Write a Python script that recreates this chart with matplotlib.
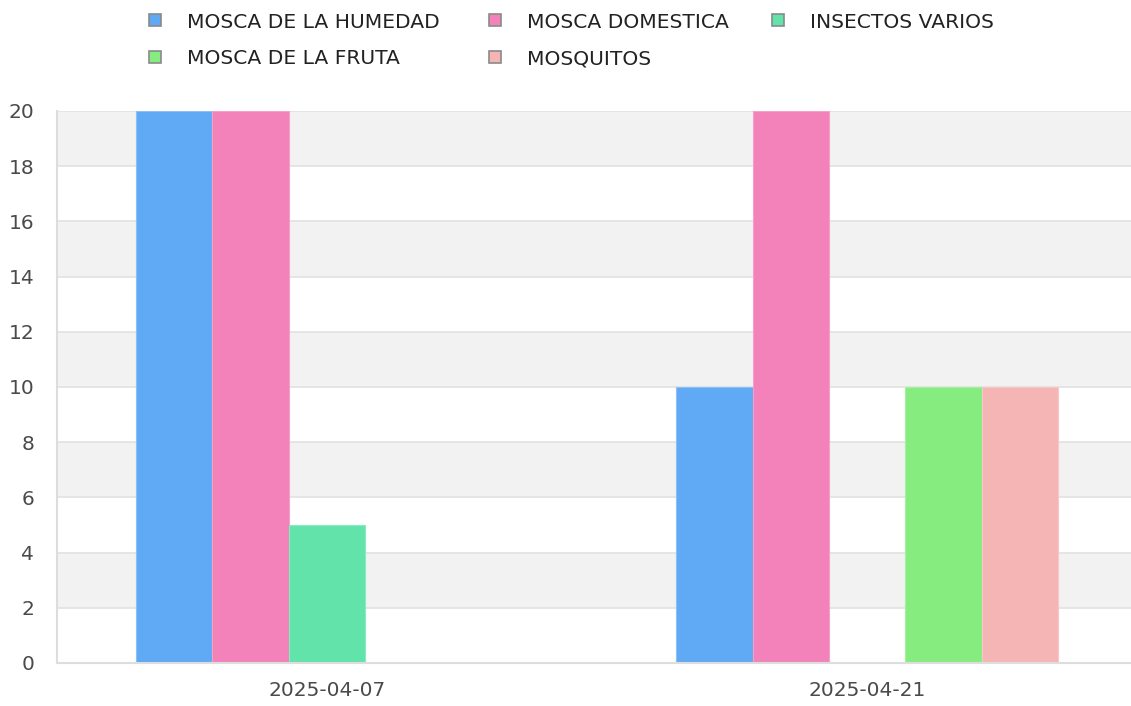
import numpy as np
import matplotlib
matplotlib.use("Agg")
import matplotlib.pyplot as plt
from matplotlib.patches import Rectangle

fechas = ["2025-04-07", "2025-04-21"]
series = ["MOSCA DE LA HUMEDAD", "MOSCA DOMESTICA", "INSECTOS VARIOS",
          "MOSCA DE LA FRUTA", "MOSQUITOS"]
valores = [
    [20, 10],   # mosca de la humedad
    [20, 20],   # mosca domestica
    [5, 0],     # insectos varios
    [0, 10],    # mosca de la fruta
    [0, 10],    # mosquitos
]
colores = ["#60a9f5", "#f282b9", "#62e3aa", "#86ec80", "#f6b5b5"]
bordes = ["#8cc0f7", "#f5a0c8", "#8aeac0", "#a6f0a0", "#f8c8c8"]

plt.rcParams['font.family'] = ['DejaVu Sans']

W, H = 1131, 706
fig = plt.figure(figsize=(W / 100, H / 100), dpi=100)
ax = fig.add_axes([56.5 / W, (H - 663) / H, 1081 / W, 552 / H])

# alternating horizontal bands
for y0 in range(0, 20, 2):
    if (y0 // 2) % 2 == 1:
        ax.axhspan(y0, y0 + 2, color="#f2f2f2", zorder=0, lw=0)
for y0 in range(2, 21, 2):
    ax.axhline(y0, color="#e2e2e2", lw=1.2, zorder=1)

x = np.arange(len(fechas))
n = len(series)
total = 0.706
bw = total / n
for i in range(n):
    pos = x - total / 2 + bw * (i + 0.5)
    ax.bar(pos, valores[i], width=bw, color=colores[i], edgecolor=bordes[i],
           lw=0.8, zorder=2)

ax.set_xlim(-0.5, 1.5)
ax.set_ylim(0, 20)
ax.set_yticks(range(0, 21, 2))
ax.set_xticks(x)
ax.set_xticklabels(fechas)
ax.tick_params(length=0, colors="#4a4a4a", labelsize=14.5)
ax.tick_params(axis="y", pad=16)
ax.tick_params(axis="x", pad=13)
for s in ["top", "right"]:
    ax.spines[s].set_visible(False)
for s in ["left", "bottom"]:
    ax.spines[s].set_color("#dddddd")
    ax.spines[s].set_linewidth(1.5)

# legend, drawn by hand in pixel positions
leg_pos = [(155, 20), (495, 20), (778, 20), (155, 57), (495, 57)]
for i, (px, py) in enumerate(leg_pos):
    fig.patches.append(Rectangle(((px - 6) / W, (H - py - 6) / H), 12 / W, 12 / H,
                                 transform=fig.transFigure, facecolor=colores[i],
                                 edgecolor="#8a8a8a", lw=1.2))
    fig.text((px + 32) / W, (H - py - 7.5) / H, series[i], va="baseline",
             ha="left", fontsize=14.6, color="#222222")

fig.savefig("out.png", dpi=100)
